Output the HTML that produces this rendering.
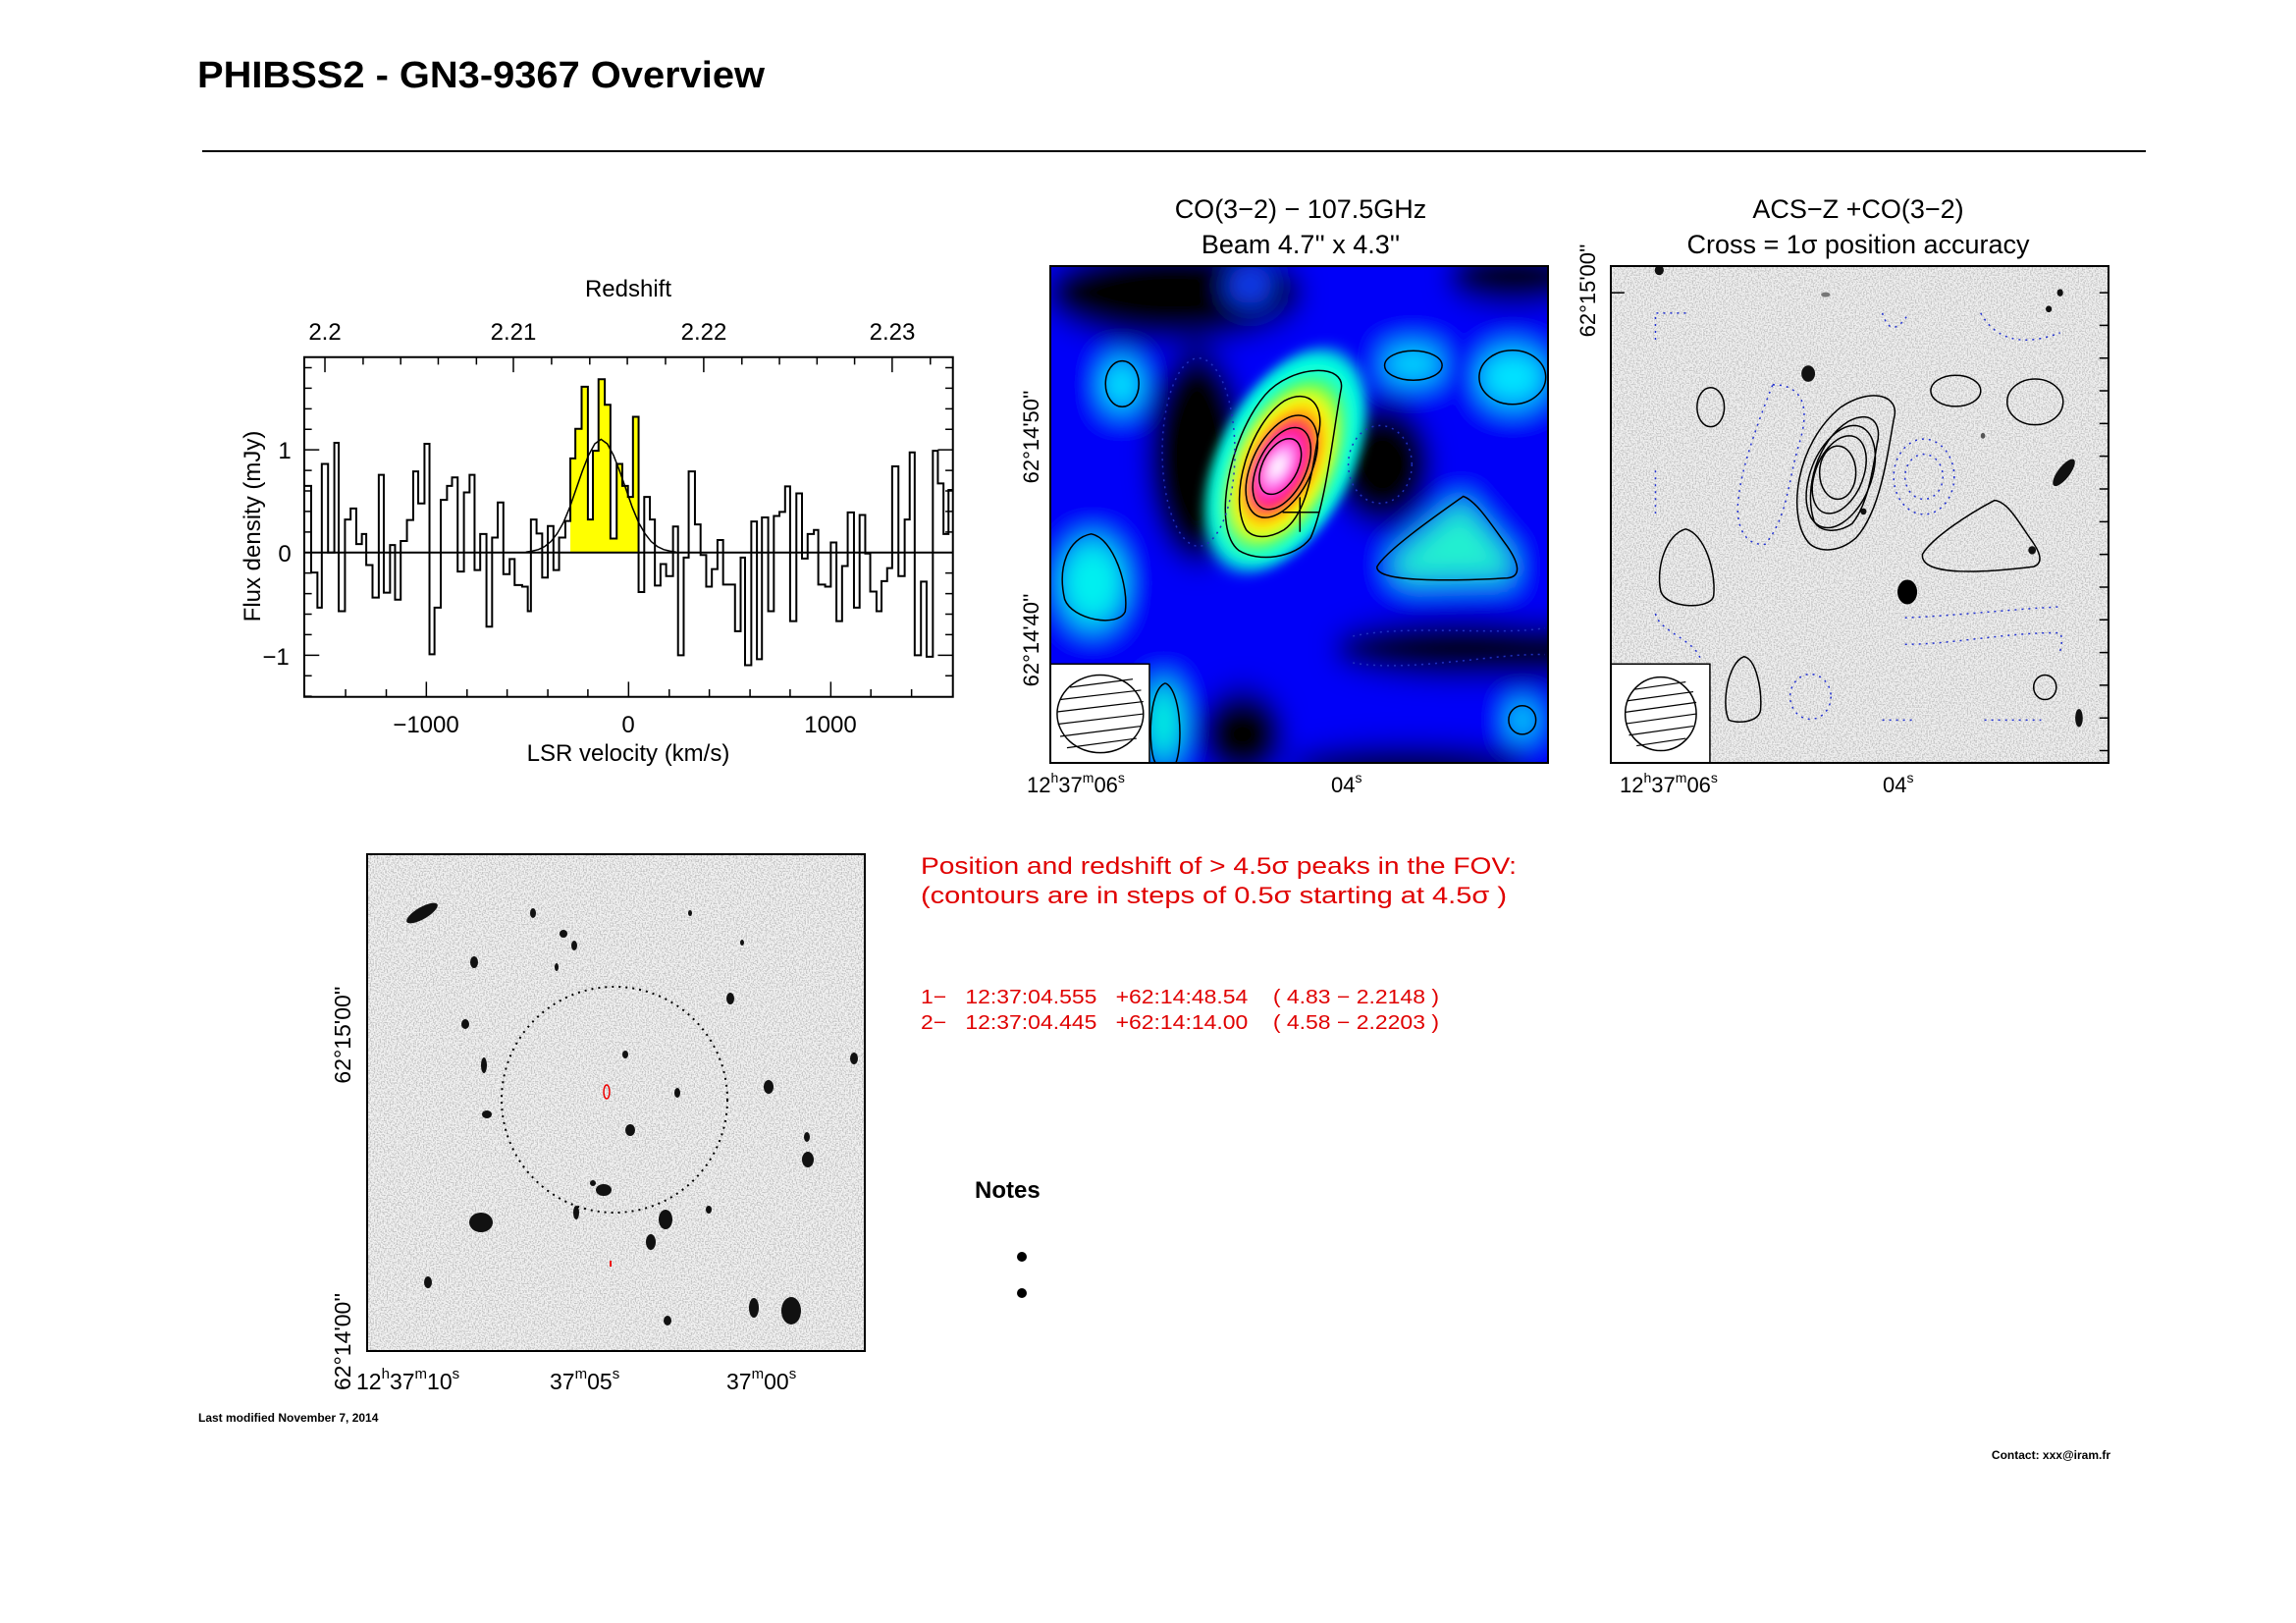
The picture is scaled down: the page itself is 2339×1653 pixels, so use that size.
<!DOCTYPE html>
<html><head><meta charset="utf-8"><style>
html,body{margin:0;padding:0;background:#fff;}
svg{display:block;}
text{font-family:"Liberation Sans",sans-serif;}
</style></head><body>
<svg width="2339" height="1653" viewBox="0 0 2339 1653" xmlns="http://www.w3.org/2000/svg">
<defs>
<filter id="bl" filterUnits="userSpaceOnUse" x="0" y="0" width="3000" height="3000"><feGaussianBlur stdDeviation="16 36"/></filter>
<filter id="bl2" filterUnits="userSpaceOnUse" x="0" y="0" width="3000" height="3000"><feGaussianBlur stdDeviation="8 18"/></filter>
<filter id="nz" filterUnits="userSpaceOnUse" x="0" y="0" width="2339" height="1653">
<feTurbulence type="fractalNoise" baseFrequency="0.7" numOctaves="1" seed="3"/>
<feColorMatrix type="matrix" values="0 0 0 0 0  0 0 0 0 0  0 0 0 0 0  -4 0 0 0 2.3"/>
<feComposite in2="SourceGraphic" operator="in"/>
</filter>
<clipPath id="cc"><rect x="86" y="215" width="658" height="1215"/></clipPath>
<clipPath id="ca"><rect x="826" y="215" width="658" height="1215"/></clipPath>
</defs>
<rect width="2339" height="1653" fill="#fff"/>

<text x="201" y="89" font-size="38" font-weight="bold" textLength="578" lengthAdjust="spacingAndGlyphs">PHIBSS2 - GN3-9367 Overview</text>
<line x1="206" y1="154" x2="2186" y2="154" stroke="#000" stroke-width="2"/>

<g transform="scale(0.6378,0.5102)">
<path d="M911,1103 V915 H919 V856 H929 V772 H939 V1037 H947 V900 H956 V757 H966 V808 H975 V1075 H985 V926 H994 V970 H1003 V992 H1011 V832 H1020 V1103 Z" fill="#ffff00"/>
<line x1="486" y1="1103" x2="1522" y2="1103" stroke="#000" stroke-width="2" vector-effect="non-scaling-stroke"/>
<path d="M486,970 H497 V1143 H507 V1213 H514 V926 H524 V1103 H534 V884 H541 V1220 H551 V1037 H560 V1015 H569 V1086 H578 V1066 H585 V1128 H595 V1193 H605 V948 H613 V1183 H623 V1088 H631 V1197 H640 V1080 H650 V1038 H660 V941 H668 V1005 H678 V886 H686 V1306 H694 V1213 H704 V998 H714 V970 H722 V953 H731 V1141 H741 V983 H750 V948 H758 V1138 H767 V1066 H777 V1251 H786 V1073 H795 V1003 H804 V1146 H814 V1116 H822 V1168 H834 V1171 H843 V1220 H848 V1037 H857 V1065 H866 V1153 H875 V1050 H884 V1138 H893 V1073 H903 V1040 H911 V915 H919 V856 H929 V772 H939 V1037 H947 V900 H956 V757 H966 V808 H975 V1075 H985 V926 H994 V970 H1003 V992 H1011 V832 H1020 V1182 H1029 V992 H1038 V1037 H1046 V1169 H1055 V1126 H1064 V1150 H1075 V1051 H1083 V1308 H1092 V1113 H1100 V941 H1110 V1047 H1119 V1108 H1128 V1171 H1137 V1136 H1146 V1078 H1155 V1167 H1174 V1260 H1183 V1113 H1190 V1328 H1200 V1041 H1209 V1316 H1217 V1033 H1227 V1220 H1236 V1030 H1245 V1022 H1254 V971 H1262 V1240 H1272 V985 H1281 V1115 H1290 V1066 H1300 V1058 H1307 V1167 H1318 V1171 H1327 V1083 H1336 V1240 H1345 V1130 H1354 V1023 H1364 V1213 H1373 V1028 H1382 V1105 H1390 V1181 H1400 V1220 H1408 V1160 H1417 V1134 H1425 V931 H1435 V1150 H1445 V1037 H1453 V903 H1461 V1308 H1471 V1161 H1480 V1311 H1490 V900 H1498 V965 H1507 V1066 H1515 V978 H1522" fill="none" stroke="#000" stroke-width="2" vector-effect="non-scaling-stroke"/>
<polyline points="840,1102 850,1100 860,1097 870,1091 880,1081 890,1065 900,1043 910,1013 920,977 930,941 940,909 950,886 960,877 970,886 980,909 990,941 1000,977 1010,1013 1020,1043 1030,1065 1040,1081 1050,1091 1060,1097 1070,1100 1080,1102" fill="none" stroke="#000" stroke-width="1.5" vector-effect="non-scaling-stroke"/>
<rect x="486" y="713" width="1036" height="678" fill="none" stroke="#000" stroke-width="2" vector-effect="non-scaling-stroke"/>
<path d="M552,1391v-15M617,1391v-15M681,1391v-30M746,1391v-15M810,1391v-15M875,1391v-15M939,1391v-15M1004,1391v-30M1069,1391v-15M1133,1391v-15M1198,1391v-15M1262,1391v-15M1327,1391v-30M1391,1391v-15M1456,1391v-15
M519,713v30M580,713v15M640,713v15M700,713v15M761,713v15M820,713v30M881,713v15M942,713v15M1002,713v15M1063,713v15M1124,713v30M1185,713v15M1245,713v15M1305,713v15M1365,713v15M1425,713v30M1486,713v15
M486,1390h12M486,1349h12M486,1308h24M486,1267h12M486,1226h12M486,1185h12M486,1144h12M486,1103h24M486,1062h12M486,1021h12M486,980h12M486,939h12M486,898h24M486,857h12M486,816h12M486,775h12M486,734h12
M1522,1349h-12M1522,1308h-24M1522,1267h-12M1522,1226h-12M1522,1185h-12M1522,1144h-12M1522,1103h-24M1522,1062h-12M1522,1021h-12M1522,980h-12M1522,939h-12M1522,898h-24M1522,857h-12M1522,816h-12M1522,775h-12M1522,734h-12" stroke="#000" stroke-width="1.5" vector-effect="non-scaling-stroke" fill="none"/>
</g>
<g font-size="24" text-anchor="middle">
<text x="640" y="302">Redshift</text>
<text x="331" y="346">2.2</text><text x="523" y="346">2.21</text><text x="717" y="346">2.22</text><text x="909" y="346">2.23</text>
<text x="434" y="746">−1000</text><text x="640" y="746">0</text><text x="846" y="746">1000</text>
<text x="640" y="775">LSR velocity (km/s)</text>
<text x="290" y="467">1</text>
<text x="290" y="572">0</text><text x="281" y="677">−1</text>
<text transform="translate(265,536) rotate(-90)">Flux density (mJy)</text>
</g>

<g font-size="27" text-anchor="middle">
<text x="1325" y="222">CO(3−2) − 107.5GHz</text>
<text x="1325" y="258">Beam 4.7'' x 4.3''</text>
<text x="1893" y="222">ACS−Z +CO(3−2)</text>
<text x="1893" y="258">Cross = 1σ position accuracy</text>
<text transform="translate(1058,445) rotate(-90)" font-size="22">62°14'50''</text>
<text transform="translate(1058,652) rotate(-90)" font-size="22">62°14'40''</text>
<text transform="translate(1625,296) rotate(-90)" font-size="22">62°15'00''</text>
</g>
<g font-size="22">
<text x="1046" y="807">12<tspan font-size="14" dy="-10">h</tspan><tspan dy="10">37</tspan><tspan font-size="14" dy="-10">m</tspan><tspan dy="10">06</tspan><tspan font-size="14" dy="-10">s</tspan></text>
<text x="1356" y="807">04<tspan font-size="14" dy="-10">s</tspan></text>
<text x="1650" y="807">12<tspan font-size="14" dy="-10">h</tspan><tspan dy="10">37</tspan><tspan font-size="14" dy="-10">m</tspan><tspan dy="10">06</tspan><tspan font-size="14" dy="-10">s</tspan></text>
<text x="1918" y="807">04<tspan font-size="14" dy="-10">s</tspan></text>
</g>

<g transform="translate(1070,271) scale(0.7705,0.4165) translate(-86,-215)">
<g clip-path="url(#cc)">
<g filter="url(#bl)">
<rect x="0" y="100" width="900" height="1500" fill="#0000f8"/>
<ellipse cx="250" cy="280" rx="170" ry="120" fill="#000"/>
<ellipse cx="700" cy="240" rx="90" ry="70" fill="#000"/>
<ellipse cx="280" cy="680" rx="65" ry="260" fill="#000"/>
<ellipse cx="525" cy="700" rx="65" ry="150" fill="#000"/>
<ellipse cx="630" cy="1150" rx="170" ry="70" fill="#000"/>
<rect x="600" y="1090" width="200" height="130" fill="#000"/>
<ellipse cx="340" cy="1360" rx="55" ry="110" fill="#000"/>
<ellipse cx="560" cy="1440" rx="160" ry="50" fill="#000"/>
<ellipse cx="350" cy="262" rx="32" ry="45" fill="#1040ff"/>
<ellipse cx="180" cy="505" rx="27" ry="58" fill="#00e8ff"/>
<ellipse cx="565" cy="455" rx="40" ry="38" fill="#00e8ff"/>
<ellipse cx="697" cy="487" rx="45" ry="66" fill="#00e8ff"/>
<ellipse cx="142" cy="990" rx="42" ry="105" fill="#00f0f0"/>
<ellipse cx="236" cy="1330" rx="24" ry="95" fill="#00f0e0"/>
<ellipse cx="710" cy="1325" rx="20" ry="35" fill="#00e8ff"/>
<polygon points="630,790 530,945 555,985 695,978 700,940" fill="#20f0d0"/>
</g>
<g filter="url(#bl2)" transform="translate(395,700) skewX(-10) translate(-395,-700)">
<ellipse cx="395" cy="690" rx="95" ry="270" fill="#00ffe0"/>
<ellipse cx="395" cy="700" rx="74" ry="215" fill="#40ff40"/>
<ellipse cx="394" cy="702" rx="60" ry="175" fill="#ffff00"/>
<ellipse cx="393" cy="703" rx="48" ry="140" fill="#ff8800"/>
<ellipse cx="392" cy="704" rx="39" ry="115" fill="#ff0030"/>
<ellipse cx="390" cy="705" rx="30" ry="88" fill="#ff10c0"/>
<ellipse cx="389" cy="705" rx="20" ry="58" fill="#ff80ff"/>
<ellipse cx="388" cy="705" rx="11" ry="30" fill="#ffffff"/>
</g>
<g fill="none" stroke="#000" stroke-width="1.5">
<path vector-effect="non-scaling-stroke" d="M335,910 C300,860 320,640 370,530 C405,455 480,450 470,520 C460,620 450,800 430,880 C410,930 360,940 335,910 Z"/>
<path vector-effect="non-scaling-stroke" d="M345,860 C320,780 350,600 395,545 C430,510 450,560 440,630 C432,720 425,820 395,860 C375,882 355,882 345,860 Z"/>
<ellipse vector-effect="non-scaling-stroke" cx="392" cy="705" rx="42" ry="125" transform="translate(392,705) skewX(-10) translate(-392,-705)"/>
<ellipse vector-effect="non-scaling-stroke" cx="392" cy="710" rx="34" ry="100" transform="translate(392,710) skewX(-10) translate(-392,-710)"/>
<ellipse vector-effect="non-scaling-stroke" cx="390" cy="705" rx="25" ry="68" transform="translate(390,705) skewX(-10) translate(-390,-705)"/>
<ellipse vector-effect="non-scaling-stroke" cx="181" cy="503" rx="22" ry="56"/>
<ellipse vector-effect="non-scaling-stroke" cx="566" cy="458" rx="38" ry="36"/>
<ellipse vector-effect="non-scaling-stroke" cx="697" cy="487" rx="44" ry="66"/>
<path vector-effect="non-scaling-stroke" d="M632,778 C600,820 530,910 518,950 C515,990 620,985 690,978 C710,975 705,940 690,900 C670,850 650,790 632,778 Z"/>
<path vector-effect="non-scaling-stroke" d="M140,870 C110,880 95,950 105,1030 C115,1080 175,1100 185,1060 C190,1000 170,880 140,870 Z"/>
<path vector-effect="non-scaling-stroke" d="M238,1235 C215,1250 215,1400 225,1430 M252,1430 C262,1380 258,1250 238,1235"/>
<ellipse vector-effect="non-scaling-stroke" cx="710" cy="1325" rx="18" ry="35"/>
<path vector-effect="non-scaling-stroke" d="M393,817 H442 M416,780 V865"/>
</g>
<g fill="none" stroke="#2030c0" stroke-width="1.5" stroke-dasharray="2 5">
<ellipse vector-effect="non-scaling-stroke" cx="282" cy="670" rx="48" ry="230"/>
<ellipse vector-effect="non-scaling-stroke" cx="522" cy="700" rx="42" ry="95"/>
<path vector-effect="non-scaling-stroke" d="M486,1120 C560,1090 680,1120 740,1100 M486,1185 C560,1210 680,1160 740,1165"/>
</g>
<rect x="86" y="1188" width="131" height="242" fill="#fff" stroke="#000" stroke-width="1.5" vector-effect="non-scaling-stroke"/>
<ellipse cx="152" cy="1310" rx="57" ry="95" fill="none" stroke="#000" stroke-width="1.5" vector-effect="non-scaling-stroke"/>
<g stroke="#000" stroke-width="1.2">
<line vector-effect="non-scaling-stroke" x1="112" y1="1245" x2="195" y2="1225"/>
<line vector-effect="non-scaling-stroke" x1="99" y1="1275" x2="206" y2="1252"/>
<line vector-effect="non-scaling-stroke" x1="95" y1="1305" x2="209" y2="1280"/>
<line vector-effect="non-scaling-stroke" x1="96" y1="1335" x2="209" y2="1310"/>
<line vector-effect="non-scaling-stroke" x1="99" y1="1365" x2="206" y2="1340"/>
<line vector-effect="non-scaling-stroke" x1="108" y1="1393" x2="200" y2="1370"/>
</g>
</g>
<rect x="86" y="215" width="658" height="1215" fill="none" stroke="#000" stroke-width="2" vector-effect="non-scaling-stroke"/>
</g>

<!-- ACS panel background + noise (drawn first) -->
<rect x="1641" y="271" width="507" height="506" fill="#f0f0f0"/>
<rect x="1642" y="272" width="505" height="504" fill="#000" filter="url(#nz)" opacity="0.18"/>
<g transform="translate(1641,271) scale(0.7705,0.4165) translate(-826,-215)">
<g clip-path="url(#ca)">
<g fill="#111">
<ellipse cx="1087" cy="478" rx="9" ry="20"/>
<ellipse cx="1218" cy="1012" rx="13" ry="30" fill="#000"/>
<ellipse cx="1425" cy="720" rx="9" ry="35" transform="rotate(20 1425 720)"/>
<ellipse cx="1383" cy="910" rx="5" ry="10"/>
<ellipse cx="890" cy="225" rx="6" ry="12"/>
<ellipse cx="1420" cy="280" rx="4" ry="9"/>
<ellipse cx="1405" cy="320" rx="4" ry="8"/>
<ellipse cx="1445" cy="1320" rx="5" ry="22"/>
<ellipse cx="1160" cy="815" rx="4" ry="8"/>
<ellipse cx="1110" cy="285" rx="6" ry="6" fill="#777"/>
<ellipse cx="1318" cy="630" rx="3" ry="7" fill="#555"/>
</g>
<g fill="none" stroke="#000" stroke-width="1.5">
<path vector-effect="non-scaling-stroke" d="M1085,885 C1060,820 1070,650 1130,560 C1170,510 1210,530 1200,590 C1190,700 1180,820 1150,880 C1125,920 1095,915 1085,885 Z"/>
<path vector-effect="non-scaling-stroke" d="M1095,840 C1080,760 1100,640 1140,595 C1170,565 1185,600 1178,650 C1172,720 1165,800 1145,845 C1125,870 1102,865 1095,840 Z"/>
<ellipse vector-effect="non-scaling-stroke" cx="1130" cy="730" rx="42" ry="125" transform="translate(1130,730) skewX(-8) translate(-1130,-730)"/>
<ellipse vector-effect="non-scaling-stroke" cx="1128" cy="725" rx="33" ry="95" transform="translate(1128,725) skewX(-8) translate(-1128,-725)"/>
<ellipse vector-effect="non-scaling-stroke" cx="1126" cy="720" rx="24" ry="65"/>
<ellipse vector-effect="non-scaling-stroke" cx="958" cy="560" rx="18" ry="48"/>
<ellipse vector-effect="non-scaling-stroke" cx="1282" cy="520" rx="33" ry="38"/>
<ellipse vector-effect="non-scaling-stroke" cx="1387" cy="547" rx="37" ry="56"/>
<path vector-effect="non-scaling-stroke" d="M1333,788 C1300,820 1250,880 1238,920 C1235,975 1320,965 1385,950 C1400,940 1392,910 1380,880 C1365,840 1350,790 1333,788 Z"/>
<path vector-effect="non-scaling-stroke" d="M925,858 C900,870 885,950 892,1010 C900,1055 960,1055 962,1020 C965,960 950,870 925,858 Z"/>
<path vector-effect="non-scaling-stroke" d="M1002,1170 C980,1185 972,1290 982,1325 C995,1335 1022,1330 1024,1300 C1026,1250 1018,1175 1002,1170 Z"/>
<ellipse vector-effect="non-scaling-stroke" cx="1400" cy="1245" rx="15" ry="30"/>
</g>
<g fill="none" stroke="#2030d0" stroke-width="1.5" stroke-dasharray="2 5">
<path vector-effect="non-scaling-stroke" d="M1040,505 C1080,505 1090,560 1075,650 C1060,740 1060,830 1030,895 C1000,900 990,840 995,780 C1000,700 1020,600 1040,505 Z"/>
<ellipse vector-effect="non-scaling-stroke" cx="1240" cy="730" rx="40" ry="92"/>
<ellipse vector-effect="non-scaling-stroke" cx="1240" cy="730" rx="25" ry="55"/>
<path vector-effect="non-scaling-stroke" d="M1215,1075 C1280,1070 1350,1055 1420,1048 M1215,1140 C1280,1140 1350,1110 1420,1112 C1425,1130 1420,1150 1420,1160"/>
<ellipse vector-effect="non-scaling-stroke" cx="1090" cy="1268" rx="27" ry="55"/>
<path vector-effect="non-scaling-stroke" d="M885,395 V330 H930 M1185,330 C1190,360 1200,390 1220,330 M1315,330 C1330,380 1360,420 1420,378 M885,715 V820 M885,1065 C890,1110 940,1130 945,1180 M1185,1325 H1225 M1320,1325 H1395"/>
</g>
<rect x="826" y="1188" width="131" height="242" fill="#fff" stroke="#000" stroke-width="1.5" vector-effect="non-scaling-stroke"/>
<ellipse cx="892" cy="1310" rx="47" ry="90" fill="none" stroke="#000" stroke-width="1.5" vector-effect="non-scaling-stroke"/>
<g stroke="#000" stroke-width="1.2">
<line vector-effect="non-scaling-stroke" x1="858" y1="1250" x2="925" y2="1232"/>
<line vector-effect="non-scaling-stroke" x1="848" y1="1278" x2="935" y2="1256"/>
<line vector-effect="non-scaling-stroke" x1="845" y1="1306" x2="939" y2="1282"/>
<line vector-effect="non-scaling-stroke" x1="846" y1="1334" x2="939" y2="1310"/>
<line vector-effect="non-scaling-stroke" x1="850" y1="1362" x2="935" y2="1340"/>
<line vector-effect="non-scaling-stroke" x1="860" y1="1388" x2="925" y2="1370"/>
</g>
</g>
<rect x="826" y="215" width="658" height="1215" fill="none" stroke="#000" stroke-width="2" vector-effect="non-scaling-stroke"/>
<path vector-effect="non-scaling-stroke" stroke="#000" stroke-width="1.5" d="M1484,280h-12M1484,360h-12M1484,440h-12M1484,520h-12M1484,600h-12M1484,680h-12M1484,760h-12M1484,840h-12M1484,920h-12M1484,1000h-12M1484,1080h-12M1484,1160h-12M1484,1240h-12M1484,1320h-12M1484,1400h-12M826,280h18"/>
</g>

<!-- Bottom HST image -->
<rect x="374" y="870" width="507" height="506" fill="#f3f3f3"/>
<rect x="375" y="871" width="505" height="504" fill="#000" filter="url(#nz)" opacity="0.2"/>
<rect x="374" y="870" width="507" height="506" fill="none" stroke="#000" stroke-width="2"/>
<g fill="#111">
<ellipse cx="430" cy="930" rx="6" ry="18" transform="rotate(60 430 930)"/>
<ellipse cx="490" cy="1245" rx="12" ry="10"/>
<ellipse cx="806" cy="1335" rx="10" ry="14"/>
<ellipse cx="768" cy="1332" rx="5" ry="10"/>
<ellipse cx="615" cy="1212" rx="8" ry="6"/>
<ellipse cx="642" cy="1151" rx="5" ry="6"/>
<ellipse cx="690" cy="1113" rx="3" ry="5"/>
<ellipse cx="678" cy="1242" rx="7" ry="10"/>
<ellipse cx="663" cy="1265" rx="5" ry="8"/>
<ellipse cx="483" cy="980" rx="4" ry="6"/>
<ellipse cx="474" cy="1043" rx="4" ry="5"/>
<ellipse cx="493" cy="1085" rx="3" ry="8"/>
<ellipse cx="496" cy="1135" rx="5" ry="4"/>
<ellipse cx="783" cy="1107" rx="5" ry="7"/>
<ellipse cx="823" cy="1181" rx="6" ry="8"/>
<ellipse cx="870" cy="1078" rx="4" ry="6"/>
<ellipse cx="585" cy="963" rx="3" ry="5"/>
<ellipse cx="574" cy="951" rx="4" ry="4"/>
<ellipse cx="637" cy="1074" rx="3" ry="4"/>
<ellipse cx="744" cy="1017" rx="4" ry="6"/>
<ellipse cx="436" cy="1306" rx="4" ry="6"/>
<ellipse cx="587" cy="1235" rx="3" ry="7"/>
<ellipse cx="822" cy="1158" rx="3" ry="5"/>
<ellipse cx="543" cy="930" rx="3" ry="5"/>
<ellipse cx="604" cy="1205" rx="3" ry="3"/>
<ellipse cx="680" cy="1345" rx="4" ry="5"/>
<ellipse cx="722" cy="1232" rx="3" ry="4"/>
<ellipse cx="567" cy="985" rx="2" ry="4"/>
<ellipse cx="703" cy="930" rx="2" ry="3"/>
<ellipse cx="756" cy="960" rx="2" ry="3"/>
</g>
<circle cx="626" cy="1120" r="115" fill="none" stroke="#000" stroke-width="2" stroke-dasharray="2 5"/>
<ellipse cx="618" cy="1112" rx="3" ry="7" fill="none" stroke="#e00" stroke-width="1.5"/>
<line x1="622" y1="1284" x2="622" y2="1290" stroke="#e00" stroke-width="2"/>
<g font-size="23">
<text transform="translate(357,1054) rotate(-90)" text-anchor="middle">62°15'00''</text>
<text transform="translate(357,1416) rotate(-90)">62°14'00''</text>
<text x="363" y="1415">12<tspan font-size="15" dy="-11">h</tspan><tspan dy="11">37</tspan><tspan font-size="15" dy="-11">m</tspan><tspan dy="11">10</tspan><tspan font-size="15" dy="-11">s</tspan></text>
<text x="560" y="1415">37<tspan font-size="15" dy="-11">m</tspan><tspan dy="11">05</tspan><tspan font-size="15" dy="-11">s</tspan></text>
<text x="740" y="1415">37<tspan font-size="15" dy="-11">m</tspan><tspan dy="11">00</tspan><tspan font-size="15" dy="-11">s</tspan></text>
</g>

<g fill="#e00000">
<text x="938" y="890" font-size="24" textLength="607" lengthAdjust="spacingAndGlyphs">Position and redshift of &gt; 4.5σ peaks in the FOV:</text>
<text x="938" y="920" font-size="24" textLength="597" lengthAdjust="spacingAndGlyphs">(contours are in steps of 0.5σ starting at 4.5σ )</text>
<text x="938" y="1022" font-size="20" textLength="528" lengthAdjust="spacingAndGlyphs" xml:space="preserve">1−   12:37:04.555   +62:14:48.54    ( 4.83 − 2.2148 )</text>
<text x="938" y="1048" font-size="20" textLength="528" lengthAdjust="spacingAndGlyphs" xml:space="preserve">2−   12:37:04.445   +62:14:14.00    ( 4.58 − 2.2203 )</text>
</g>
<text x="993" y="1220" font-size="24" font-weight="bold">Notes</text>
<circle cx="1041" cy="1280" r="5"/>
<circle cx="1041" cy="1317" r="5"/>
<text x="202" y="1448" font-size="12" font-weight="bold">Last modified November 7, 2014</text>
<text x="2150" y="1486" font-size="12" font-weight="bold" text-anchor="end">Contact: xxx@iram.fr</text>
</svg>
</body></html>
